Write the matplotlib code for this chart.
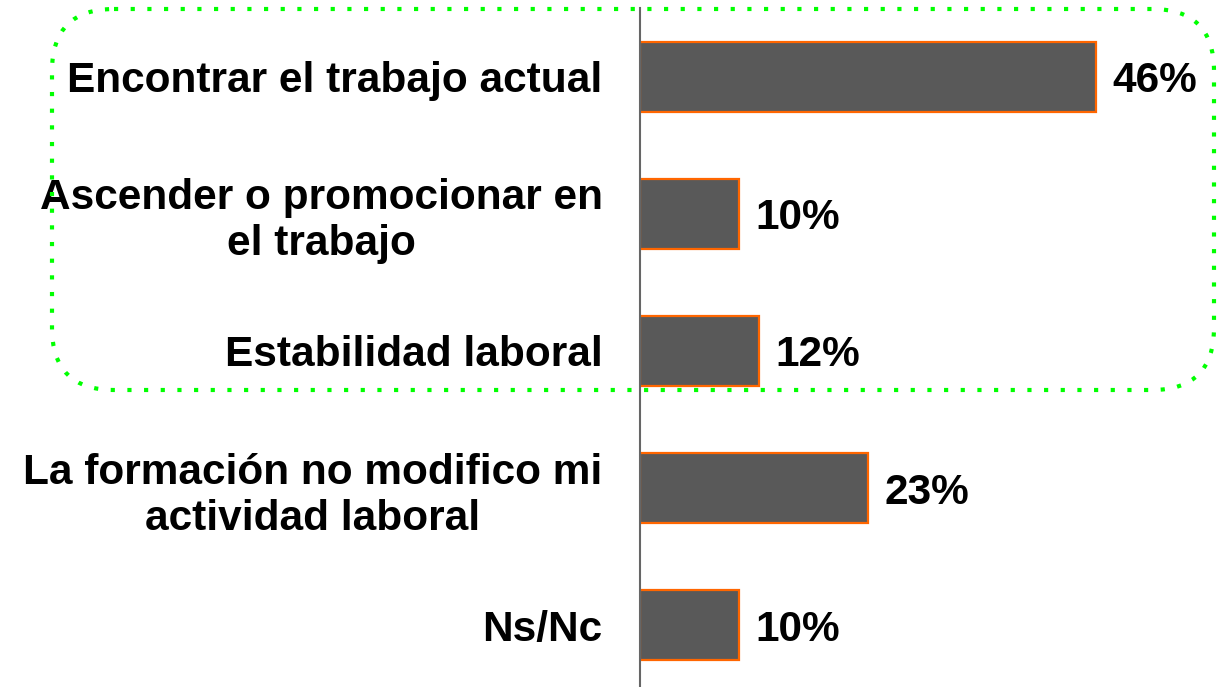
import matplotlib
matplotlib.use('Agg')
import matplotlib.pyplot as plt
from matplotlib.patches import FancyBboxPatch

# ── Data ─────────────────────────────────────────────────────────────────────
categories = ['Encontrar el trabajo actual',
              'Ascender o promocionar en\nel trabajo',
              'Estabilidad laboral',
              'La formación no modifico mi\nactividad laboral',
              'Ns/Nc']
values = [46, 10, 12, 23, 10]

BAR_FILL = '#595959'
BAR_EDGE = '#ff6600'
GREEN = '#00ff00'

plt.rcParams['font.family'] = ['Liberation Sans', 'DejaVu Sans']

W, H = 1217, 687
fig = plt.figure(figsize=(W / 100, H / 100), dpi=100)
fig.patch.set_facecolor('white')

ax = fig.add_axes([640 / W, 0.0, 1 - 640 / W, 1 - 8 / H])
y = list(range(len(categories)))
ax.barh(y, values, height=0.51, color=BAR_FILL, edgecolor=BAR_EDGE,
        linewidth=1.6, zorder=2)

for yi, v in zip(y, values):
    ax.text(v + 1.65, yi, f'{v}%', ha='left', va='center_baseline',
            fontsize=30.5, fontweight='bold', color='black')

ax.set_xlim(0, 58.2)
ax.set_ylim(4.45, -0.5)
ax.set_xticks([])
ax.set_yticks(y)
ax.set_yticklabels(categories, fontsize=30.5, fontweight='bold')
for lbl in ax.get_yticklabels():
    lbl.set_multialignment('center')
ax.tick_params(axis='y', length=0, pad=27)
for s in ['top', 'right', 'bottom']:
    ax.spines[s].set_visible(False)
ax.spines['left'].set_color('#666666')
ax.spines['left'].set_linewidth(1.5)
ax.patch.set_alpha(0)

# dotted green rounded frame around the first three rows (pixel overlay)
ov = fig.add_axes([0, 0, 1, 1], zorder=5)
ov.set_xlim(0, W)
ov.set_ylim(H, 0)
ov.axis('off')
ov.patch.set_alpha(0)
frame = FancyBboxPatch((52, 9), 1162, 381,
                       boxstyle='round,pad=0,rounding_size=62',
                       fill=False, edgecolor=GREEN, linewidth=3,
                       linestyle=(0, (1, 3)), capstyle='butt')
ov.add_patch(frame)

fig.savefig('out.png', dpi=100, facecolor='white')
